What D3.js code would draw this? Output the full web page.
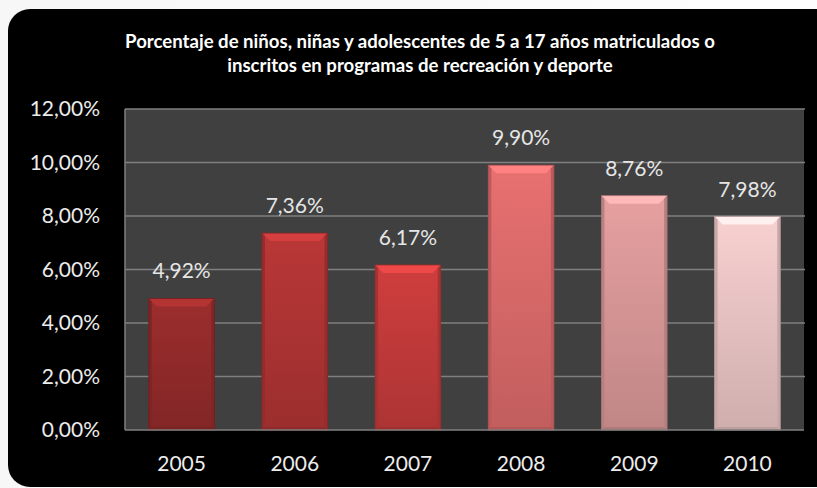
<!DOCTYPE html>
<html>
<head>
<meta charset="utf-8">
<script src="https://cdn.jsdelivr.net/npm/d3@7"></script>
<style>
  html, body { margin: 0; padding: 0; background: #ffffff; }
  svg { display: block; }
  text { font-family: Lato, "Open Sans", sans-serif; }
</style>
</head>
<body>
<svg id="chart" width="817" height="488"></svg>
<script>
// Chart data
const years = ["2005", "2006", "2007", "2008", "2009", "2010"];
const values = [0.0492, 0.0736, 0.0617, 0.0990, 0.0876, 0.0798];
const barColors = ["#942b2b", "#b03434", "#c43b3b", "#dc6a6a", "#da9898", "#ebc5c5"];
const yTicks = [0, 0.02, 0.04, 0.06, 0.08, 0.10, 0.12];
const titleLines = [
  "Porcentaje de niños, niñas y adolescentes de 5 a 17 años matriculados o",
  "inscritos en programas de recreación y deporte"
];

const svg = d3.select("#chart");
const W = 817, H = 488;
const plot = { left: 125, right: 804, top: 109, bottom: 430 };

const esLocale = d3.formatLocale({ decimal: ",", thousands: ".", grouping: [3], currency: ["", "€"] });
const pct = esLocale.format(".2%");

// Soft light backdrop and the black rounded panel
const bgGrad = svg.append("defs").append("linearGradient")
  .attr("id", "bg").attr("x1", 0).attr("y1", 0).attr("x2", 1).attr("y2", 0);
bgGrad.append("stop").attr("offset", "0%").attr("stop-color", "#f7f7f7");
bgGrad.append("stop").attr("offset", "100%").attr("stop-color", "#fdfdfd");
svg.append("rect").attr("width", W).attr("height", H).attr("fill", "url(#bg)");
svg.append("rect")
  .attr("x", 8).attr("y", 9).attr("width", 840).attr("height", 478)
  .attr("rx", 22).attr("ry", 22).attr("fill", "#000000");

// Title
const title = svg.append("text")
  .attr("x", 420).attr("text-anchor", "middle")
  .attr("fill", "#ffffff").attr("font-weight", "bold").attr("font-size", 18.6);
titleLines.forEach((line, i) => {
  title.append("tspan").attr("x", 420).attr("y", 48 + i * 24).text(line);
});

// Scales
const x = d3.scaleBand().domain(years)
  .range([plot.left, plot.right]).paddingInner(0.42).paddingOuter(0.21);
const y = d3.scaleLinear().domain([0, 0.12]).range([plot.bottom, plot.top]);

// Plot area
svg.append("rect")
  .attr("x", plot.left).attr("y", plot.top)
  .attr("width", plot.right - plot.left).attr("height", plot.bottom - plot.top)
  .attr("fill", "#404040");

// Gridlines
svg.append("g").selectAll("line").data(yTicks.slice(1)).join("line")
  .attr("x1", plot.left).attr("x2", plot.right + 1)
  .attr("y1", d => y(d)).attr("y2", d => y(d))
  .attr("stroke", "#7f7f7f").attr("stroke-width", 1.5);
svg.append("line")
  .attr("x1", plot.left).attr("x2", plot.left)
  .attr("y1", plot.top).attr("y2", plot.bottom)
  .attr("stroke", "#7f7f7f").attr("stroke-width", 1.5);

// Y axis labels
const yAxis = svg.append("g").attr("transform", `translate(${plot.left},0)`)
  .call(d3.axisLeft(y).tickValues(yTicks).tickFormat(pct).tickSize(0).tickPadding(25));
yAxis.select(".domain").remove();
yAxis.selectAll("text").attr("fill", "#ececec").attr("font-size", 21)
  .attr("font-family", "Lato, sans-serif");

// Bars with a bevelled face
const defs = svg.select("defs");
years.forEach((yr, i) => {
  const c = d3.color(barColors[i]);
  const g = defs.append("linearGradient").attr("id", "bar" + i)
    .attr("x1", 0).attr("y1", 0).attr("x2", 0).attr("y2", 1);
  g.append("stop").attr("offset", "0%").attr("stop-color", c.brighter(0.15));
  g.append("stop").attr("offset", "100%").attr("stop-color", c.darker(0.35));
});

const bw = x.bandwidth();
const bev = 8, side = 3;
const bars = svg.append("g").selectAll("g").data(years).join("g");
bars.each(function (yr, i) {
  const g = d3.select(this);
  const x0 = x(yr), x1 = x0 + bw;
  const y0 = y(values[i]), y1 = y(0);
  const c = d3.color(barColors[i]);
  g.append("rect").attr("x", x0).attr("y", y0).attr("width", bw).attr("height", y1 - y0)
    .attr("fill", `url(#bar${i})`);
  // top bevel
  g.append("polygon")
    .attr("points", [[x0, y0], [x1, y0], [x1 - bev, y0 + bev], [x0 + bev, y0 + bev]].join(" "))
    .attr("fill", c.brighter(0.55));
  // side bevels
  g.append("polygon")
    .attr("points", [[x0, y0], [x0 + side, y0 + side], [x0 + side, y1 - side], [x0, y1]].join(" "))
    .attr("fill", c.darker(0.45));
  g.append("polygon")
    .attr("points", [[x1, y0], [x1 - side, y0 + side], [x1 - side, y1 - side], [x1, y1]].join(" "))
    .attr("fill", c.darker(0.45));
  // bottom bevel
  g.append("polygon")
    .attr("points", [[x0, y1], [x1, y1], [x1 - side, y1 - side], [x0 + side, y1 - side]].join(" "))
    .attr("fill", c.darker(0.6));
  g.append("rect").attr("x", x0).attr("y", y0).attr("width", bw).attr("height", y1 - y0)
    .attr("fill", "none").attr("stroke", c.darker(0.8)).attr("stroke-width", 0.8);
});

// Baseline
svg.append("line")
  .attr("x1", plot.left).attr("x2", plot.right)
  .attr("y1", plot.bottom).attr("y2", plot.bottom)
  .attr("stroke", "#808080").attr("stroke-width", 1.5);

// Value labels
svg.append("g").selectAll("text").data(years).join("text")
  .attr("x", d => x(d) + bw / 2)
  .attr("y", (d, i) => y(values[i]) - 20)
  .attr("text-anchor", "middle").attr("fill", "#e6e6e6").attr("font-size", 21)
  .text((d, i) => pct(values[i]));

// X axis labels
const xAxis = svg.append("g").attr("transform", `translate(0,${plot.bottom})`)
  .call(d3.axisBottom(x).tickSize(0).tickPadding(26));
xAxis.select(".domain").remove();
xAxis.selectAll("text").attr("fill", "#ececec").attr("font-size", 21)
  .attr("font-family", "Lato, sans-serif");
</script>
</body>
</html>
